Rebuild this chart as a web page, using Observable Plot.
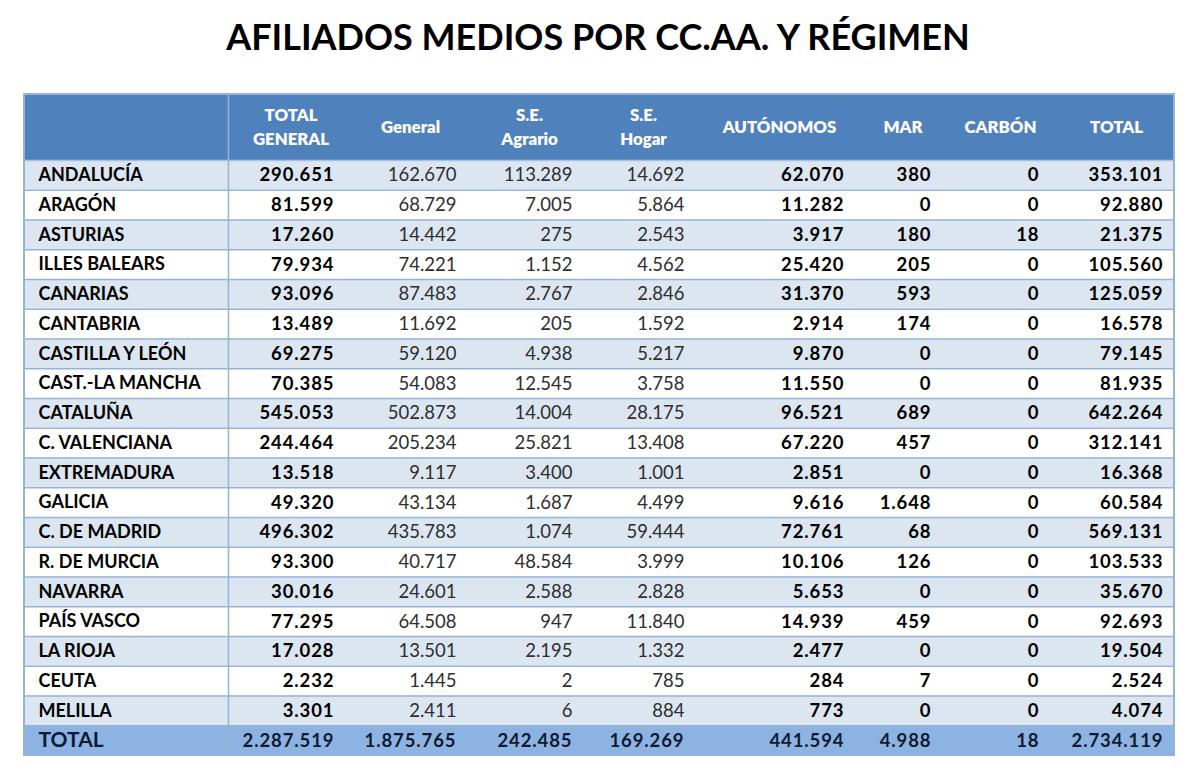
<!DOCTYPE html>
<html><head><meta charset="utf-8">
<script src="https://cdn.jsdelivr.net/npm/d3@7"></script>
<script src="https://cdn.jsdelivr.net/npm/@observablehq/plot@0.6"></script>
<style>
body{margin:0;background:#fff;font-family:Lato,sans-serif;}
#title{height:88px;width:1196px;text-align:center;font-weight:700;font-size:36px;line-height:72px;color:#000;}
#chart svg{display:block;}
#chart g[font-weight="bold"][text-anchor="end"] text{letter-spacing:0.9px;}
</style></head><body>
<div id="title">AFILIADOS MEDIOS POR CC.AA. Y RÉGIMEN</div>
<div id="chart"></div>
<script>
const regions = ["ANDALUCÍA","ARAGÓN","ASTURIAS","ILLES BALEARS","CANARIAS","CANTABRIA","CASTILLA Y LEÓN","CAST.-LA MANCHA","CATALUÑA","C. VALENCIANA","EXTREMADURA","GALICIA","C. DE MADRID","R. DE MURCIA","NAVARRA","PAÍS VASCO","LA RIOJA","CEUTA","MELILLA"];
const headers = ["TOTAL\nGENERAL","General","S.E.\nAgrario","S.E.\nHogar","AUTÓNOMOS","MAR","CARBÓN","TOTAL"];
const totalGeneral = [290651,81599,17260,79934,93096,13489,69275,70385,545053,244464,13518,49320,496302,93300,30016,77295,17028,2232,3301];
const general = [162670,68729,14442,74221,87483,11692,59120,54083,502873,205234,9117,43134,435783,40717,24601,64508,13501,1445,2411];
const agrario = [113289,7005,275,1152,2767,205,4938,12545,14004,25821,3400,1687,1074,48584,2588,947,2195,2,6];
const hogar = [14692,5864,2543,4562,2846,1592,5217,3758,28175,13408,1001,4499,59444,3999,2828,11840,1332,785,884];
const autonomos = [62070,11282,3917,25420,31370,2914,9870,11550,96521,67220,2851,9616,72761,10106,5653,14939,2477,284,773];
const mar = [380,0,180,205,593,174,0,0,689,457,0,1648,68,126,0,459,0,7,0];
const carbon = [0,0,18,0,0,0,0,0,0,0,0,0,0,0,0,0,0,0,0];
const total = [353101,92880,21375,105560,125059,16578,79145,81935,642264,312141,16368,60584,569131,103533,35670,92693,19504,2524,4074];
const totalLabel = "TOTAL";
const totalRow = [2287519,1875765,242485,169269,441594,4988,18,2734119];

const series = [totalGeneral, general, agrario, hogar, autonomos, mar, carbon, total];
const boldCols = [true,false,false,false,true,true,true,true];

// table layout (column edges in px units from table's left edge)
const colEdges = [0,204,321,443,559,671,831,918,1026,1150];
const W = 1150, headTop = -2.22, nRows = regions.length + 1;

const fmt = d3.formatLocale({decimal: ",", thousands: ".", grouping: [3], currency: ["", "€"]}).format(",d");

const cells = [];
regions.forEach((r, i) => series.forEach((s, j) => cells.push({row: i, col: j, value: s[i], bold: boldCols[j]})));
const totals = totalRow.map((v, j) => ({row: regions.length, col: j, value: v}));
const rowIdx = regions.map((r, i) => i);

const chart = Plot.plot({
  width: 1200, height: 695,
  margin: 0,
  style: {fontFamily: "Lato, sans-serif", background: "transparent"},
  x: {domain: [0, W], range: [24, 1174], axis: null},
  y: {domain: [headTop, nRows], range: [6, 667], axis: null},
  color: {type: "identity"},
  marks: [
    Plot.rect(rowIdx, {x1: 0, x2: W, y1: d => d, y2: d => d + 1, fill: d => d % 2 === 0 ? "#dce6f1" : "#ffffff"}),
    Plot.rect([0], {x1: 0, x2: W, y1: headTop, y2: 0, fill: "#4f81bd"}),
    Plot.rect([0], {x1: 0, x2: W, y1: regions.length, y2: nRows, fill: "#8db3e2"}),
    Plot.ruleY(d3.range(1, regions.length + 1), {x1: 0, x2: W, stroke: "#95b3d7", strokeWidth: 1.5}),
    Plot.ruleY([0], {x1: 0, x2: W, stroke: "#a9c1e0", strokeWidth: 1.5}),
    Plot.ruleX([colEdges[1]], {y1: headTop, y2: nRows, stroke: "#95b3d7", strokeWidth: 1.5}),
    Plot.rect([0], {x1: 0, x2: W, y1: headTop, y2: nRows, fill: "none", stroke: "#95b3d7", strokeWidth: 2}),
    Plot.text(headers, {
      x: (d, i) => (colEdges[i + 1] + colEdges[i + 2]) / 2, dx: 4, y: headTop / 2, dy: -2,
      text: d => d, fill: "#ffffff", fontWeight: "800", fontSize: 16.8, lineHeight: 1.45
    }),
    Plot.text(regions, {x: 0, dx: 14, y: (d, i) => i + 0.5, text: d => d, textAnchor: "start", fontWeight: "bold", fontSize: 18, fill: "#000"}),
    Plot.text(cells.filter(d => d.bold), {x: d => colEdges[d.col + 2], dx: -11, y: d => d.row + 0.5, text: d => fmt(d.value), textAnchor: "end", fontWeight: "bold", fontSize: 18.5, fill: "#000"}),
    Plot.text(cells.filter(d => !d.bold), {x: d => colEdges[d.col + 2], dx: -11, y: d => d.row + 0.5, text: d => fmt(d.value), textAnchor: "end", fontSize: 18.5, fill: "#2e2e2e"}),
    Plot.text([totalLabel], {x: 0, dx: 14, y: regions.length + 0.5, text: d => d, textAnchor: "start", fontWeight: "bold", fontSize: 21, fill: "#0e1a36"}),
    Plot.text(totals, {x: d => colEdges[d.col + 2], dx: -11, y: d => d.row + 0.5, text: d => fmt(d.value), textAnchor: "end", fontWeight: "bold", fontSize: 18.5, fill: "#111a30"})
  ]
});
document.getElementById("chart").append(chart);
</script>
</body></html>
